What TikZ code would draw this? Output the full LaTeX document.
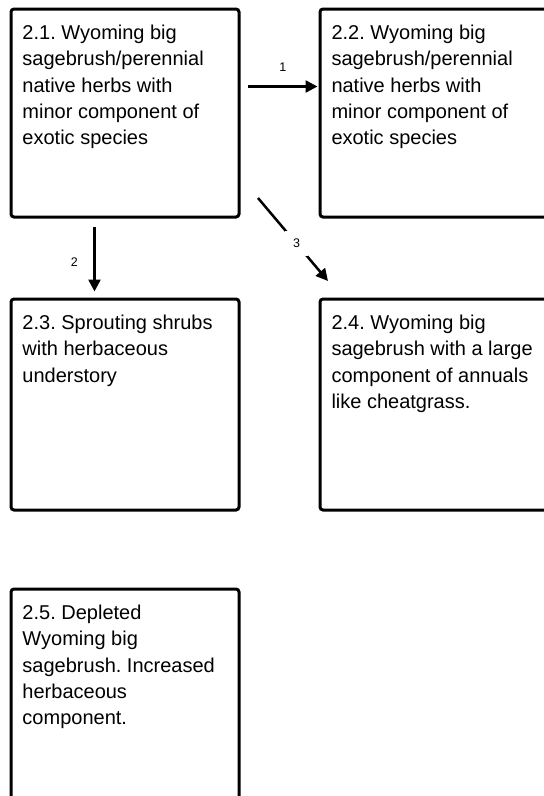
\documentclass[tikz,border=0pt]{standalone}
\usepackage{fontspec}
\setmainfont{Liberation Sans}
\usetikzlibrary{arrows.meta}
\frenchspacing
\newcommand{\statetext}[1]{\parbox[t]{205pt}{\raggedright #1}}
\tikzset{
  statebox/.style={draw=black,line width=3pt,rounded corners=3pt,anchor=north west,
    minimum width=228pt,inner xsep=11pt,inner ysep=15.5pt,
    text height=15pt,text depth=#1,font=\fontsize{20pt}{26.3pt}\selectfont},
  statebox/.default=162pt,
  trans/.style={-{Triangle[length=12pt,width=12pt]},line width=2.5pt},
  translabel/.style={font=\fontsize{12.5pt}{14pt}\selectfont}
}

\begin{document}
\begin{tikzpicture}[x=1pt,y=1pt]
\useasboundingbox (0,0) rectangle (544,-796);
\clip (0,0) rectangle (544,-796);
% states
\node (s21) [statebox] at (9.5,-7.5) {\statetext{2.1. Wyoming big\\sagebrush/perennial\\native herbs with\\minor component of\\exotic species}};
\node (s22) [statebox] at (318.5,-7.5) {\statetext{2.2. Wyoming big\\sagebrush/perennial\\native herbs with\\minor component of\\exotic species}};
\node (s23) [statebox=165pt] at (9.5,-297.5) {\statetext{2.3. Sprouting shrubs\\with herbaceous\\understory}};
\node (s24) [statebox=165pt] at (318.5,-297.5) {\statetext{2.4. Wyoming big\\sagebrush with a large\\component of annuals\\like cheatgrass.}};
\node (s25) [statebox=300pt] at (9.5,-587.5) {\statetext{2.5. Depleted\\Wyoming big\\sagebrush. Increased\\herbaceous\\component.}};
%
\path[trans] ([shift={(7.5,26.5)}]s21.east) edge node[translabel,above=10pt] {1} ([shift={(-1,26.5)}]s22.west);
\path[trans] ([shift={(-30.5,-8.5)}]s21.south) edge node[translabel,left=12pt,yshift=-3pt] {2} ([shift={(-30.5,6)}]s23.north);
\path[trans] ([shift={(17.5,20.5)}]s21.south east) edge node[translabel,pos=0.55,fill=white,inner sep=8pt] {3} ([shift={(9.5,16.5)}]s24.north west);
\end{tikzpicture}
\end{document}
